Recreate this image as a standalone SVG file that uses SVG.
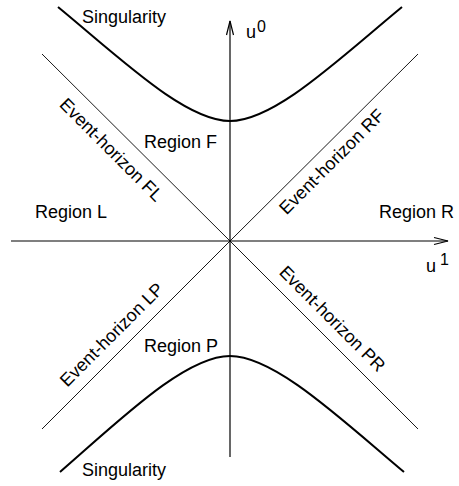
<svg xmlns="http://www.w3.org/2000/svg" width="459" height="486" viewBox="0 0 459 486">
<style>
text { font-family: "Liberation Sans", Arial, sans-serif; font-size: 18px; fill: #000; }
.sup { font-size: 16px; }
.axis { stroke: #000; stroke-width: 1.2; fill: none; }
.horizon { stroke: #000; stroke-width: 0.9; fill: none; }
.sing { stroke: #000; stroke-width: 2; fill: none; }
</style>
<rect width="459" height="486" fill="#fff"/>
<g id="connectors">
  <g id="axes">
    <line class="axis" x1="230" y1="457" x2="230" y2="21"/>
    <polyline class="axis" points="226.5,35 230,21 233.5,35"/>
    <line class="axis" x1="11" y1="241" x2="448" y2="241"/>
    <polyline class="axis" points="434,237.5 448,241 434,244.5"/>
  </g>
  <g id="horizons">
    <line class="horizon" x1="42" y1="54" x2="230" y2="241"/>
    <line class="horizon" x1="418" y1="54" x2="230" y2="241"/>
    <line class="horizon" x1="42" y1="429" x2="230" y2="241"/>
    <line class="horizon" x1="418" y1="429" x2="230" y2="241"/>
  </g>
  <g id="singularities">
    <path class="sing" d="M58,7 C120,58 185,121 230,121 C275,121 340,58 402,7"/>
    <path class="sing" d="M60,472 C120,420 185,356 230,356 C275,356 342,420 404,472"/>
  </g>
</g>
<g id="label-u0"><text x="246" y="38">u</text><text class="sup" x="257" y="32">0</text></g>
<g id="label-u1"><text x="426" y="272">u</text><text class="sup" x="440" y="265">1</text></g>
<g id="singularity-top"><text x="82" y="23">Singularity</text></g>
<g id="singularity-bottom"><text x="82" y="476">Singularity</text></g>
<g id="region-F"><text x="144" y="148">Region F</text></g>
<g id="region-L"><text x="35" y="218">Region L</text></g>
<g id="region-R"><text x="379" y="218">Region R</text></g>
<g id="region-P"><text x="144" y="352">Region P</text></g>
<g id="horizon-FL"><text text-anchor="middle" transform="translate(107,154) rotate(45)">Event-horizon FL</text></g>
<g id="horizon-RF"><text text-anchor="middle" transform="translate(336,166) rotate(-45)">Event-horizon RF</text></g>
<g id="horizon-LP"><text text-anchor="middle" transform="translate(116,339) rotate(-45)">Event-horizon LP</text></g>
<g id="horizon-PR"><text text-anchor="middle" transform="translate(328,323) rotate(45)">Event-horizon PR</text></g>
</svg>
